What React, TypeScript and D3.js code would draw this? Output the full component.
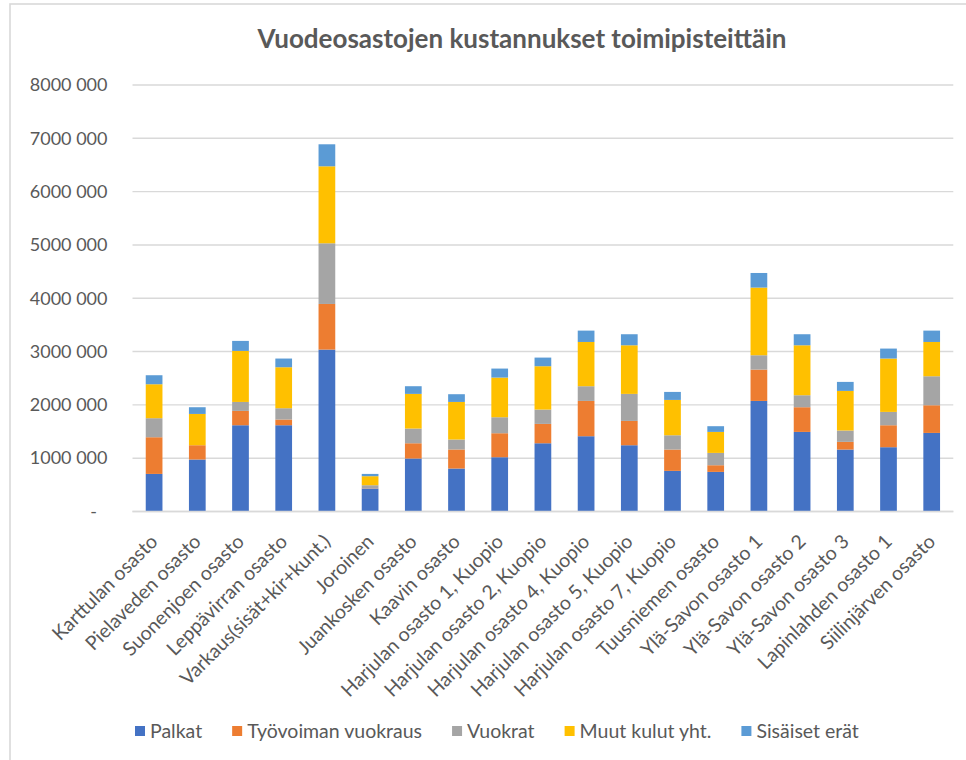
import React, { useEffect, useRef } from "react";
import * as d3 from "d3";

const categories = [
  "Karttulan osasto",
  "Pielaveden osasto",
  "Suonenjoen osasto",
  "Leppävirran osasto",
  "Varkaus(sisät+kir+kunt.)",
  "Joroinen",
  "Juankosken osasto",
  "Kaavin osasto",
  "Harjulan osasto 1, Kuopio",
  "Harjulan osasto 2, Kuopio",
  "Harjulan osasto 4, Kuopio",
  "Harjulan osasto 5, Kuopio",
  "Harjulan osasto 7, Kuopio",
  "Tuusniemen osasto",
  "Ylä-Savon osasto 1",
  "Ylä-Savon osasto 2",
  "Ylä-Savon osasto 3",
  "Lapinlahden osasto 1",
  "Siilinjärven osasto",
];

const palkat = [705000, 975000, 1618000, 1618000, 3037000, 431000, 994000, 806000, 1018000, 1280000, 1412000, 1243000, 762000, 743000, 2074000, 1493000, 1162000, 1206000, 1474000];
const tyovoimanVuokraus = [688000, 268000, 269000, 107000, 856000, 5000, 286000, 357000, 450000, 363000, 662000, 456000, 400000, 125000, 588000, 463000, 144000, 412000, 519000];
const vuokrat = [357000, 0, 168000, 212000, 1138000, 57000, 276000, 187000, 300000, 269000, 276000, 507000, 268000, 231000, 269000, 225000, 213000, 250000, 544000];
const muutKulut = [637000, 587000, 957000, 769000, 1444000, 169000, 650000, 705000, 744000, 813000, 830000, 912000, 663000, 394000, 1269000, 937000, 743000, 1001000, 643000];
const sisaisetErat = [169000, 126000, 188000, 163000, 413000, 43000, 144000, 145000, 169000, 162000, 213000, 207000, 150000, 107000, 274000, 207000, 169000, 187000, 213000];

const seriesNames = ["Palkat", "Työvoiman vuokraus", "Vuokrat", "Muut kulut yht.", "Sisäiset erät"];
const seriesColors = ["#4472C4", "#ED7D31", "#A5A5A5", "#FFC000", "#5B9BD5"];
const yTicks = [0, 1000000, 2000000, 3000000, 4000000, 5000000, 6000000, 7000000, 8000000];
const title = "Vuodeosastojen kustannukset toimipisteittäin";

const W = 966;
const H = 760;
const FONT = "Lato, 'Open Sans', sans-serif";
const TEXT = "#595959";
const GRID = "#d9d9d9";

function fmt(v: number) {
  if (v === 0) return "-";
  const s = String(v);
  return s.slice(0, -3) + " " + s.slice(-3);
}

export default function App() {
  const ref = useRef<SVGSVGElement>(null);

  useEffect(() => {
    const svg = d3.select(ref.current);
    svg.selectAll("*").remove();

    const seriesData = [palkat, tyovoimanVuokraus, vuokrat, muutKulut, sisaisetErat];
    const rows = categories.map((c, i) => {
      const r: any = { cat: c };
      seriesNames.forEach((n, k) => (r[n] = seriesData[k][i]));
      return r;
    });
    const stacked = d3.stack<any>().keys(seriesNames)(rows);

    const x = d3.scaleBand<string>().domain(categories).range([132.5, 953.3]).paddingInner(0.613).paddingOuter(0.3065);
    const y = d3.scaleLinear().domain([0, 8000000]).range([511.5, 85]);

    // frame
    svg.append("rect").attr("x", 10).attr("y", 4).attr("width", 1000).attr("height", 800)
      .attr("fill", "white").attr("stroke", GRID).attr("stroke-width", 1.6);

    // title
    svg.append("text").attr("x", 522).attr("y", 41).attr("text-anchor", "middle")
      .attr("dominant-baseline", "middle").attr("font-family", FONT).attr("font-weight", 700)
      .attr("font-size", 26).attr("fill", TEXT).text(title);

    // gridlines
    svg.append("g").selectAll("line").data(yTicks).join("line")
      .attr("x1", 132.5).attr("x2", 953.3)
      .attr("y1", (d) => y(d)).attr("y2", (d) => y(d))
      .attr("stroke", GRID).attr("stroke-width", 1.4);

    // y labels
    svg.append("g").selectAll("text").data(yTicks).join("text")
      .attr("x", (d) => (d === 0 ? 97 : 107.5))
      .attr("y", (d) => y(d))
      .attr("dy", "0.35em")
      .attr("text-anchor", "end")
      .attr("font-family", FONT).attr("font-size", 18).attr("fill", TEXT)
      .text((d) => fmt(d));

    // bars
    svg.append("g").selectAll("g").data(stacked).join("g")
      .attr("fill", (_d, i) => seriesColors[i])
      .selectAll("rect").data((d) => d).join("rect")
      .attr("x", (d: any) => x(d.data.cat)!)
      .attr("width", x.bandwidth())
      .attr("y", (d: any) => y(d[1]))
      .attr("height", (d: any) => Math.max(0, y(d[0]) - y(d[1])));

    // axis line
    svg.append("line").attr("x1", 132.5).attr("x2", 953.3).attr("y1", y(0)).attr("y2", y(0))
      .attr("stroke", GRID).attr("stroke-width", 1.6);

    // x labels
    svg.append("g").selectAll("text").data(categories).join("text")
      .attr("transform", (d) => `translate(${x(d)! + x.bandwidth() / 2},${538}) rotate(-45)`)
      .attr("text-anchor", "end")
      .attr("dy", "0.35em")
      .attr("font-family", FONT).attr("font-size", 19.5).attr("fill", TEXT)
      .text((d) => d);

    // legend
    const lg = svg.append("g");
    let cx = 135;
    seriesNames.forEach((n, i) => {
      lg.append("rect").attr("x", cx).attr("y", 726).attr("width", 10).attr("height", 10).attr("fill", seriesColors[i]);
      const t = lg.append("text").attr("x", cx + 15).attr("y", 731).attr("dy", "0.35em")
        .attr("font-family", FONT).attr("font-size", 19.5).attr("fill", TEXT).text(n);
      const w = (t.node() as SVGTextElement).getComputedTextLength();
      cx = cx + 15 + w + 30;
    });
  }, []);

  return (
    <div style={{ position: "absolute", left: 0, top: 0 }}>
      <svg ref={ref} width={W} height={H} style={{ display: "block" }} />
    </div>
  );
}
